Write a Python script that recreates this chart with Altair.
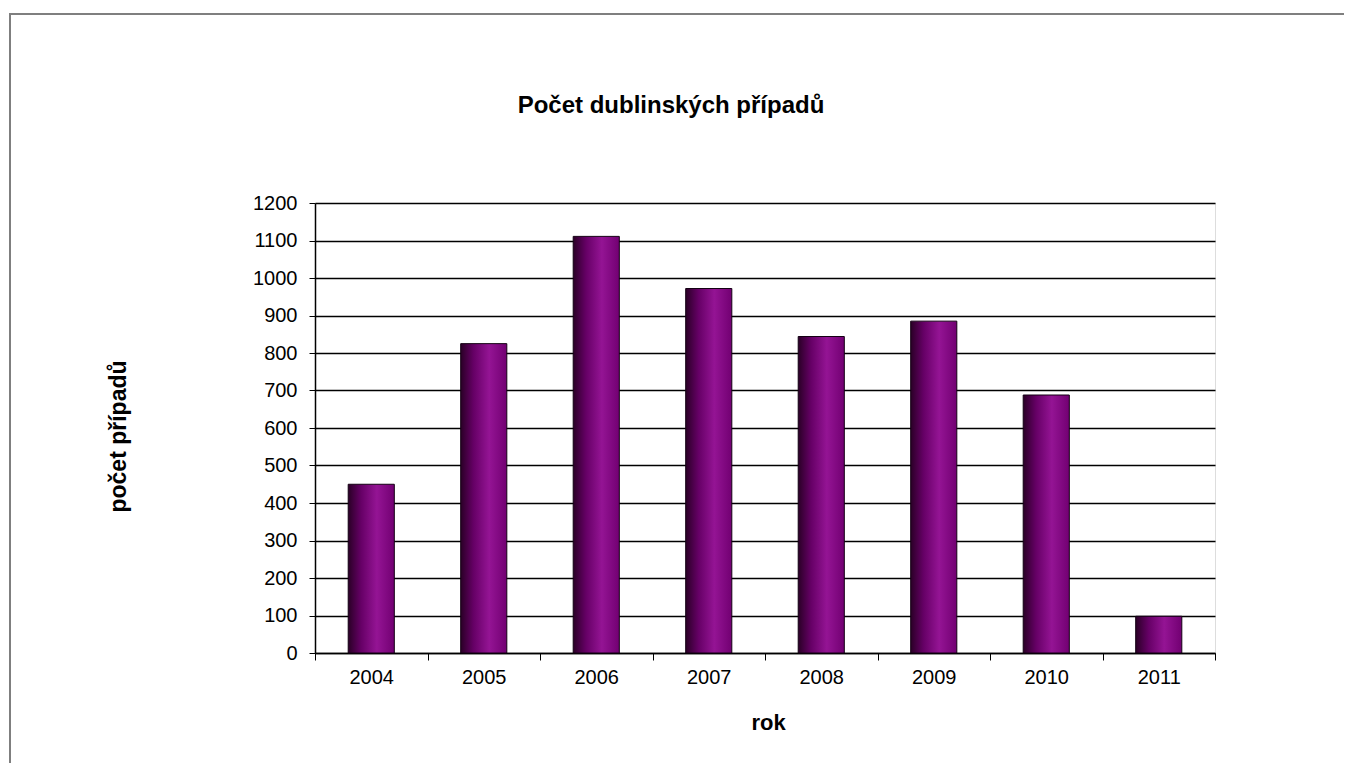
import altair as alt
import pandas as pd

years = ["2004", "2005", "2006", "2007", "2008", "2009", "2010", "2011"]
counts = [450, 825, 1111, 972, 844, 885, 688, 98]
chart_title = "Počet dublinských případů"

df = pd.DataFrame({"rok": years, "pocet": counts})

FONT = "Liberation Sans"

gradient = alt.Gradient(
    gradient="linear",
    x1=0, x2=1, y1=0, y2=0,
    stops=[
        alt.GradientStop(color="#2a0026", offset=0),
        alt.GradientStop(color="#660066", offset=0.28),
        alt.GradientStop(color="#941494", offset=0.62),
        alt.GradientStop(color="#720072", offset=1),
    ],
)

one = alt.Data(values=[{"a": 1}])

frame = alt.Chart(one).mark_rect(
    filled=False, stroke="#7f7f7f", strokeWidth=2
).encode(
    x=alt.value(-305), x2=alt.value(1200),
    y=alt.value(-189), y2=alt.value(800),
)

title = alt.Chart(one).mark_text(
    text=chart_title, font=FONT, fontSize=24, fontWeight="bold",
    color="#000", align="center", baseline="alphabetic",
).encode(x=alt.value(356), y=alt.value(-90))

bars = alt.Chart(df).mark_bar(
    color=gradient, stroke="#140014", strokeWidth=1,
    width=alt.RelativeBandSize(0.41),
).encode(
    x=alt.X(
        "rok:N", sort=years,
        scale=alt.Scale(paddingInner=0, paddingOuter=0),
        axis=alt.Axis(
            title="rok", tickBand="extent", grid=False,
            labelAngle=0, labelFont=FONT, labelFontSize=20, labelColor="#000",
            labelPadding=7, tickSize=7, tickColor="#000", domainColor="#000",
            domainWidth=1.5,
            titleFont=FONT, titleFontSize=22, titleFontWeight="bold", titleColor="#000",
            titleX=453, titleY=69, titleBaseline="middle", titleAlign="center",
        ),
    ),
    y=alt.Y(
        "pocet:Q",
        scale=alt.Scale(domain=[0, 1200], nice=False),
        axis=alt.Axis(
            title="počet případů", values=list(range(0, 1201, 100)), format="d",
            labelFont=FONT, labelFontSize=20, labelColor="#000",
            labelPadding=12, tickSize=6, tickColor="#000", domainColor="#000",
            domainWidth=1.5,
            grid=True, gridColor="#000", gridWidth=1.6,
            titleFont=FONT, titleFontSize=23, titleFontWeight="bold", titleColor="#000",
            titleX=-197, titleY=233, titleBaseline="middle", titleAlign="center",
            titleAngle=-90,
        ),
    ),
)

chart = alt.layer(frame, bars, title).properties(
    width=900,
    height=450,
    autosize=alt.AutoSizeParams(type="none"),
    padding={"left": 307, "top": 195, "right": 129, "bottom": 110},
).configure_view(
    fill="#cccccc", stroke="#808080", strokeWidth=2
).configure(background="white")

chart.save("out.html", embed_options={"renderer": "svg", "actions": False})
